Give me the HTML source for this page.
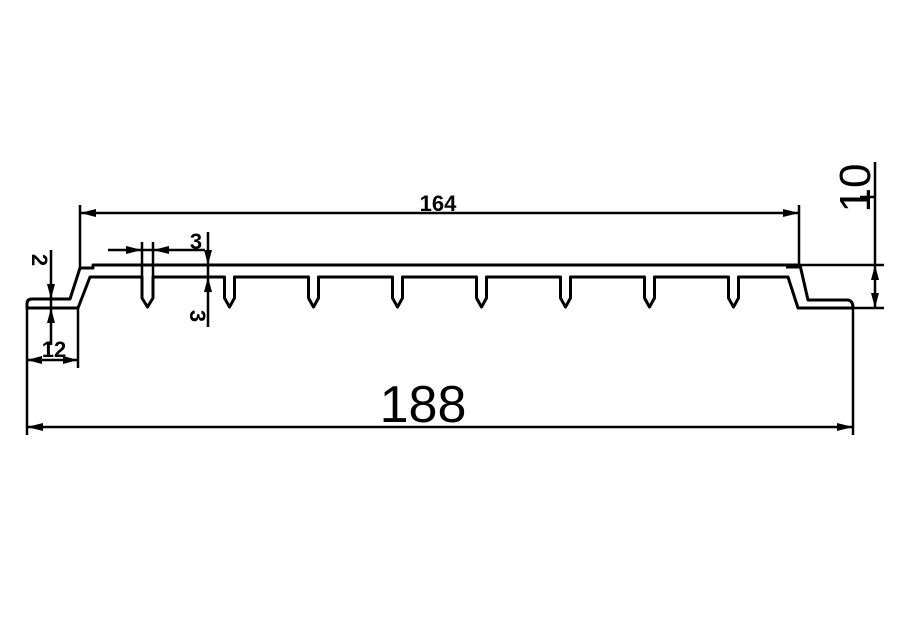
<!DOCTYPE html>
<html><head><meta charset="utf-8"><style>
html,body{margin:0;padding:0;background:#fff;}
svg{display:block;}
</style></head><body>
<svg width="899" height="624" viewBox="0 0 899 624" xmlns="http://www.w3.org/2000/svg">
<rect width="899" height="624" fill="#fff"/>
<g fill="none" stroke="#000" stroke-width="3" stroke-linejoin="round">
<path d="M27,308 L27,304 Q27,299 32,299 L70,299 L80,268 L93,268 L93,265 L800,265 L808,300 L847,300 Q853,300 853,308 L798,308 L788,277
L738.5,277 L738.5,298 L733.5,307 L728.5,298 L728.5,277
L654.5,277 L654.5,298 L649.5,307 L644.5,298 L644.5,277
L570.5,277 L570.5,298 L565.5,307 L560.5,298 L560.5,277
L486.5,277 L486.5,298 L481.5,307 L476.5,298 L476.5,277
L402.5,277 L402.5,298 L397.5,307 L392.5,298 L392.5,277
L318.5,277 L318.5,298 L313.5,307 L308.5,298 L308.5,277
L234.5,277 L234.5,298 L229.5,307 L224.5,298 L224.5,277
L153,277 L153,298 L147.5,307 L142,298 L142,277
L90,277 L78,308 Z"/>
<line x1="786" y1="267" x2="800" y2="267"/>
</g>
<g stroke="#000" stroke-width="2.5" fill="none">
<line x1="80" y1="205" x2="80" y2="268"/>
<line x1="799" y1="205" x2="799" y2="265"/>
<line x1="800" y1="265" x2="884" y2="265"/>
<line x1="853" y1="308" x2="884" y2="308"/>
<line x1="875" y1="162" x2="875" y2="308"/>
<line x1="27" y1="308" x2="27" y2="435"/>
<line x1="853" y1="308" x2="853" y2="435"/>
<line x1="78" y1="308" x2="78" y2="368"/>
<line x1="142" y1="242" x2="142" y2="277"/>
<line x1="153" y1="242" x2="153" y2="277"/>
<line x1="80" y1="213" x2="799" y2="213"/>
<line x1="27" y1="427" x2="853" y2="427"/>
<line x1="108" y1="250" x2="205" y2="250"/>
<line x1="208" y1="232" x2="208" y2="327"/>
<line x1="51" y1="250" x2="51" y2="345"/>
<line x1="27" y1="360" x2="78" y2="360"/>
<line x1="860" y1="197" x2="875" y2="197"/>
</g>
<g fill="#000">
<polygon points="80,213 96,209 96,217"/>
<polygon points="799,213 783,209 783,217"/>
<polygon points="27,427 43,423 43,431"/>
<polygon points="853,427 837,423 837,431"/>
<polygon points="142,250 126,246 126,254"/>
<polygon points="153,250 169,246 169,254"/>
<polygon points="208,265 204,250 212,250"/>
<polygon points="208,277 204,292 212,292"/>
<polygon points="51,299 47,284 55,284"/>
<polygon points="51,308 47,323 55,323"/>
<polygon points="27,360 42,356 42,364"/>
<polygon points="78,360 63,356 63,364"/>
<polygon points="875,265 871,280 879,280"/>
<polygon points="875,308 871,293 879,293"/>
</g>
<g font-family="Liberation Sans, sans-serif" fill="#000">
<text x="438" y="211" font-size="22" font-weight="bold" text-anchor="middle">164</text>
<text x="423" y="422" font-size="52" text-anchor="middle">188</text>
<text x="196" y="249" font-size="22" font-weight="bold" text-anchor="middle">3</text>
<text x="54" y="357" font-size="22" font-weight="bold" text-anchor="middle">12</text>
<text transform="translate(32,260) rotate(90)" font-size="22" font-weight="bold" text-anchor="middle">2</text>
<text transform="translate(190,316) rotate(90)" font-size="22" font-weight="bold" text-anchor="middle">3</text>
<text transform="translate(870,188) rotate(-90)" font-size="44" text-anchor="middle">10</text>
</g>
</svg>
</body></html>
